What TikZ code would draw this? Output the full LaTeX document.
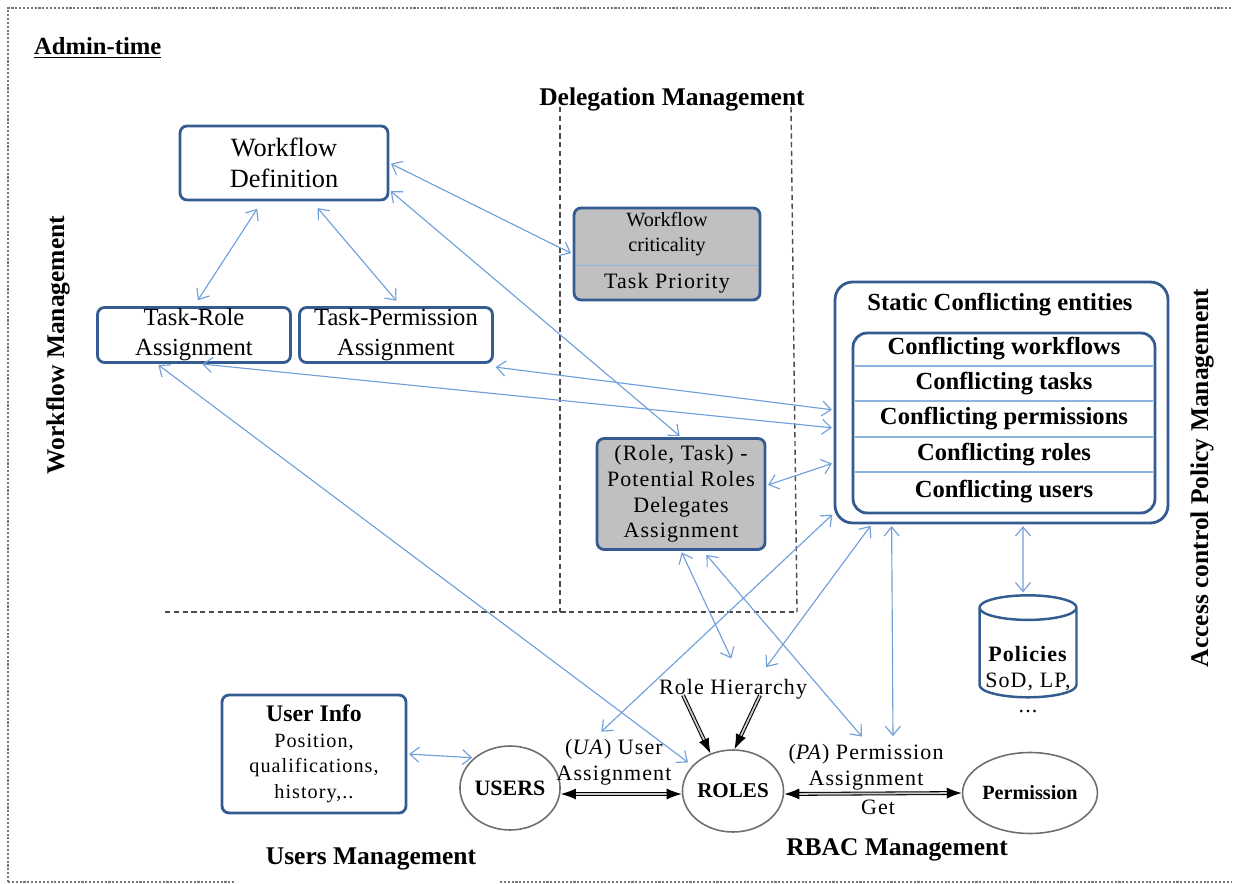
\documentclass[tikz,border=0pt]{standalone}
\usepackage{fontspec}
\setmainfont{Liberation Serif}
\newfontfamily\widefont[LetterSpace=5]{Liberation Serif}
\usetikzlibrary{shapes.geometric,arrows.meta}

\definecolor{boxblue}{RGB}{52,92,145}
\definecolor{linkblue}{RGB}{112,160,218}
\definecolor{rowblue}{RGB}{140,180,225}
\definecolor{boxgray}{RGB}{192,192,192}
\definecolor{ovalgray}{RGB}{110,110,110}
\definecolor{framegray}{RGB}{120,120,120}

\begin{document}
\begin{tikzpicture}[x=0.02cm, y=-0.02cm,
  panel/.style={draw=boxblue, line width=1.6pt, rounded corners=4pt, align=center, inner sep=0pt},
  link/.style={draw=linkblue, line width=0.65pt, {Straight Barb[length=1.8mm,width=3mm]}-{Straight Barb[length=1.8mm,width=3mm]}, shorten <=1pt, shorten >=1pt},
  solid link/.style={draw=black, double=gray!40, double distance=1pt, line width=0.6pt, {Latex[length=3mm,width=2.2mm]}-{Latex[length=3mm,width=2.2mm]}},
  oval/.style={ellipse, draw=ovalgray, line width=0.9pt, inner sep=0pt},
  sectiontitle/.style={font=\fontsize{14.5}{17}\selectfont\bfseries},
  rowtext/.style={font=\fontsize{14}{16}\selectfont\bfseries},
  divider/.style={draw=rowblue, line width=0.8pt},
  outerframe/.style={draw=framegray, densely dotted, line width=1.2pt},
  zone/.style={draw=gray!60!black, dash pattern=on 3pt off 2pt, line width=0.8pt}]

\useasboundingbox ( 0, 0 ) rectangle ( 1233, 884 );

% Frame
\draw [outerframe] ( 8, 882 ) -- ( 8, 8 ) -- ( 1231, 8 );
\draw [outerframe] ( 8, 882 ) -- ( 236, 882 );
\draw [outerframe] ( 500, 882 ) -- ( 1231, 882 );

% Delegation zone
\draw [zone] ( 560, 107 ) -- ( 560, 612 );
\draw [zone] ( 791, 107 ) -- ( 797, 612 );
\draw [zone] ( 165, 612 ) -- ( 797, 612 );

% Titles
\node (admin) at ( 28, 48 ) [anchor=west, font=\fontsize{14}{17}\selectfont\bfseries] {\underline{Admin-time}};
\node (deleg) at ( 672, 99 ) [sectiontitle] {Delegation Management};
\node (wfm) at ( 58, 345 ) [sectiontitle, rotate=90] {Workflow Management};
\node (acpm) at ( 1202, 478 ) [sectiontitle, rotate=90] {Access control Policy Management};
\node (usersm) at ( 371, 859 ) [sectiontitle] {Users Management};
\node (rbacm) at ( 897, 850 ) [sectiontitle] {RBAC Management};

% Workflow boxes
\node (wd) at ( 284, 163 ) [panel, minimum width=4.16cm, minimum height=1.48cm, font=\fontsize{15}{18}\selectfont] {Workflow\\Definition};
\node (tr) at ( 194, 335 ) [panel, minimum width=3.86cm, minimum height=1.1cm, font=\fontsize{14}{17}\selectfont] {Task-Role\\Assignment};
\node (tp) at ( 396, 335 ) [panel, minimum width=3.86cm, minimum height=1.1cm, font=\fontsize{14}{17}\selectfont] {Task-Permission\\Assignment};

% Delegation boxes
\node (crit) at ( 667, 254 ) [panel, fill=boxgray, minimum width=3.72cm, minimum height=1.84cm] {};
\draw [divider] ([xshift=2pt, yshift=0.72cm]crit.south west) -- ([xshift=-2pt, yshift=0.72cm]crit.south east);
\node (critw) at ( 667, 234 ) [align=center, font=\fontsize{11.5}{14.5}\selectfont] {Workflow\\criticality};
\node (prio) at ( 667, 283 ) [font=\widefont\fontsize{12.5}{15}\selectfont] {Task Priority};
\node (rt) at ( 681, 494 ) [panel, fill=boxgray, minimum width=3.36cm, minimum height=2.22cm, font=\widefont\fontsize{12.5}{14.6}\selectfont] {(Role, Task) -\\Potential Roles\\Delegates\\Assignment};

% Conflicting entities
\node (sce) at ( 1001.5, 402.5 ) [panel, rounded corners=10pt, minimum width=6.66cm, minimum height=4.82cm] {};
\node (scetitle) at ( 1000, 305 ) [rowtext] {Static Conflicting entities};
\node (sci) at ( 1004, 423 ) [panel, rounded corners=8pt, minimum width=6.04cm, minimum height=3.6cm] {};
\foreach \y in {366, 401, 437, 472}
  \draw [divider] ( 855, \y ) -- ( 1153, \y );
\foreach \y/\txt [count=\i] in {349/workflows, 384/tasks, 419/permissions, 455/roles, 492/users}
  \node (row\i) at ( 1004, \y ) [rowtext] {Conflicting \txt};

% Policies
\node (pol) at ( 1028, 656 ) [cylinder, shape border rotate=90, aspect=2.1, draw=boxblue, line width=1.4pt, minimum width=1.94cm, minimum height=2.04cm] {};
\node (poltext) at ( 1028, 680 ) [align=center, font=\widefont\fontsize{12.5}{14.5}\selectfont] {\textbf{Policies}\\SoD, LP,\\...};

% RBAC
\node (ui) at ( 314, 754 ) [panel, minimum width=3.68cm, minimum height=2.36cm, font=\widefont\fontsize{11.5}{14.5}\selectfont] {{\normalfont\fontsize{13.5}{16}\selectfont\bfseries User Info}\\Position,\\qualifications,\\history,..};
\node (users) at ( 510, 788 ) [oval, minimum width=1.88cm, minimum height=1.68cm, font=\fontsize{12.5}{15}\selectfont\bfseries] {USERS};
\node (roles) at ( 733, 791 ) [oval, minimum width=1.72cm, minimum height=1.64cm, font=\fontsize{12}{15}\selectfont\bfseries] {ROLES};
\node (perm) at ( 1030, 793 ) [oval, minimum width=2.68cm, minimum height=1.62cm, font=\fontsize{11.5}{14}\selectfont\bfseries] {Permission};
\node (ua) at ( 614, 762 ) [align=center, font=\widefont\fontsize{12.5}{14.7}\selectfont] {(\textit{UA}) User\\Assignment};
\node (rh) at ( 733, 689 ) [font=\widefont\fontsize{12.5}{15}\selectfont] {Role Hierarchy};
\node (pa) at ( 866, 767 ) [align=center, font=\widefont\fontsize{12.5}{14.7}\selectfont] {(\textit{PA}) Permission\\Assignment};
\node (get) at ( 878, 807 ) [font=\widefont\fontsize{12.5}{15}\selectfont] {Get};

% Links
\draw [link, shorten <=5pt, shorten >=4pt] ([xshift=-0.44cm]wd.south) -- (tr.north);
\draw [link, shorten <=5pt, shorten >=4pt] ([xshift=0.56cm]wd.south) -- ([xshift=0.1cm]tp.north);
\draw [link] (wd.east) -- (crit.west);
\draw [link] ([yshift=-0.54cm]wd.east) -- (rt.north);
\draw [link] ([yshift=-0.06cm]tp.south east) -- ([yshift=-0.15cm]sce.west);
\draw [link] ([xshift=0.13cm]tr.south) -- ([yshift=-0.51cm]sce.west);
\draw [link, shorten >=3pt] ([xshift=-0.74cm]tr.south) -- (roles.148);
\draw [link] ([yshift=0.17cm]rt.east) -- ([yshift=-1.21cm]sce.west);
\draw [link, shorten >=9pt] (rt.south) -- ([xshift=0.1cm]rh.north);
\draw [link, shorten <=3pt] ([xshift=0.44cm]rt.south) -- ([xshift=-0.06cm]pa.north);
\draw [link] ([yshift=0.22cm]sce.south west) -- ([xshift=-0.28cm]ua.north);
\draw [link, shorten >=4pt] ([xshift=0.76cm]sce.south west) -- ([xshift=0.58cm]rh.north);
\draw [link] ([xshift=1.16cm]sce.south west) -- ([xshift=0.54cm]pa.north);
\draw [link] ([xshift=0.43cm]sce.south) -- ([xshift=-0.1cm]pol.north);
\draw [link] (ui.east) -- (users.140);

% Black links
\draw [solid link] ([yshift=-0.12cm]users.east) -- ([yshift=-0.06cm]roles.west);
\draw [solid link] ([yshift=-0.06cm]roles.east) -- (perm.west);
\draw [solid link, -{Latex[length=3mm,width=2.2mm]}] ([xshift=-1cm, yshift=0.2cm]rh.south) -- (roles.121);
\draw [solid link, -{Latex[length=3mm,width=2.2mm]}] ([xshift=0.54cm, yshift=0.2cm]rh.south) -- (roles.88);

\end{tikzpicture}
\end{document}
